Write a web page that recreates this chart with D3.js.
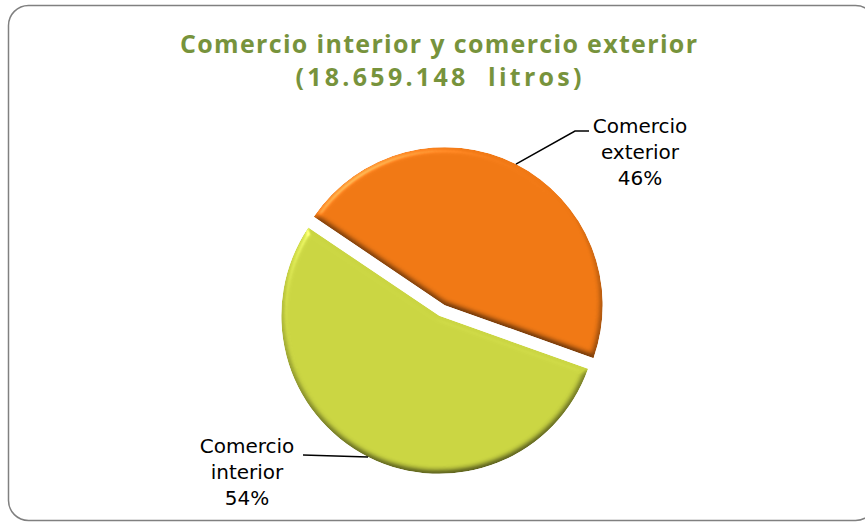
<!DOCTYPE html>
<html>
<head>
<meta charset="utf-8">
<script src="https://cdn.jsdelivr.net/npm/d3@7"></script>
<style>
  html, body { margin: 0; padding: 0; background: #fff; overflow: hidden; }
  svg { display: block; }
</style>
</head>
<body>
<script>
// chart data
var categories = ["Comercio exterior", "Comercio interior"];
var shares = [46, 54];
var labelLines = [["Comercio", "exterior", "46%"], ["Comercio", "interior", "54%"]];
var colors = ["#F07814", "#CAD542"];
var titleLines = ["Comercio interior y comercio exterior", "(18.659.148  litros)"];

var width = 865, height = 522;
var cx = 442, cy = 310.5, radius = 158, explode = 6;

var svg = d3.select("body").append("svg")
    .attr("width", width)
    .attr("height", height);

var defs = svg.append("defs");

// soft bevel for the slices
var f = defs.append("filter").attr("id", "bevel")
    .attr("color-interpolation-filters", "sRGB")
    .attr("x", "-10%").attr("y", "-10%").attr("width", "120%").attr("height", "120%");
f.append("feGaussianBlur").attr("in", "SourceAlpha").attr("stdDeviation", 3).attr("result", "blur");
var dl = f.append("feDiffuseLighting").attr("in", "blur").attr("surfaceScale", 3)
    .attr("diffuseConstant", 1.155).attr("lighting-color", "#fff").attr("result", "diff");
dl.append("feDistantLight").attr("azimuth", 260).attr("elevation", 60);
f.append("feComposite").attr("in", "SourceGraphic").attr("in2", "diff")
    .attr("operator", "arithmetic").attr("k1", 1).attr("k2", 0).attr("k3", 0).attr("k4", 0)
    .attr("result", "shaded");
var sl = f.append("feSpecularLighting").attr("in", "blur").attr("surfaceScale", 3)
    .attr("specularConstant", 0.4).attr("specularExponent", 40)
    .attr("lighting-color", "#fff").attr("result", "spec");
sl.append("feDistantLight").attr("azimuth", 235).attr("elevation", 40);
f.append("feComposite").attr("in", "spec").attr("in2", "SourceAlpha").attr("operator", "in").attr("result", "specIn");
f.append("feComposite").attr("in", "shaded").attr("in2", "specIn")
    .attr("operator", "arithmetic").attr("k1", 0).attr("k2", 1).attr("k3", 0.6).attr("k4", 0)
    .attr("result", "lit");
f.append("feComposite").attr("in", "lit").attr("in2", "SourceAlpha").attr("operator", "in");

// frame
svg.append("rect")
    .attr("x", 8.5).attr("y", 5.5)
    .attr("width", 867).attr("height", 515)
    .attr("rx", 20).attr("ry", 20)
    .attr("fill", "#fff")
    .attr("stroke", "#808080")
    .attr("stroke-width", 1.5);

// title
var titleWidths = [517, 286];
svg.append("g").selectAll("text")
    .data(titleLines)
    .enter().append("text")
    .attr("x", 438.5)
    .attr("y", function (d, i) { return 52.5 + i * 33; })
    .attr("text-anchor", "middle")
    .attr("textLength", function (d, i) { return titleWidths[i]; })
    .attr("lengthAdjust", "spacing")
    .style("font-family", "'Open Sans', 'DejaVu Sans', sans-serif")
    .style("font-weight", "bold")
    .style("font-size", "25px")
    .style("fill", "#77933C")
    .style("white-space", "pre")
    .text(function (d) { return d; });

// pie
var pie = d3.pie().sort(null)
    .startAngle(-56 * Math.PI / 180)
    .endAngle(304 * Math.PI / 180);
var arcs = pie(shares);

var arc = d3.arc().innerRadius(0).outerRadius(radius);
var edgeArc = d3.arc().innerRadius(radius).outerRadius(radius);

function offset(d) {
    var a = (d.startAngle + d.endAngle) / 2;
    return [cx + explode * Math.sin(a), cy - explode * Math.cos(a)];
}

var slices = svg.append("g").selectAll("g")
    .data(arcs)
    .enter().append("g")
    .attr("transform", function (d) { var o = offset(d); return "translate(" + o[0] + "," + o[1] + ")"; });

slices.append("path")
    .attr("d", arc)
    .attr("fill", function (d, i) { return colors[i]; })
    .attr("filter", "url(#bevel)");

// labels and leader lines
var labelPos = [[640, 133], [247, 453]];
var leaderEnds = [[[575, 131], [589, 131]], [[303, 455], [303, 455]]];
var lineGap = 26;

arcs.forEach(function (d, i) {
    var o = offset(d);
    var c = edgeArc.centroid(d);
    var start = [o[0] + c[0], o[1] + c[1]];
    var pts = [start].concat(leaderEnds[i]);
    svg.append("path")
        .attr("d", d3.line()(pts))
        .attr("fill", "none")
        .attr("stroke", "#000")
        .attr("stroke-width", 1.5);

    svg.append("g").selectAll("text")
        .data(labelLines[i])
        .enter().append("text")
        .attr("x", labelPos[i][0])
        .attr("y", function (t, j) { return labelPos[i][1] + j * lineGap; })
        .attr("text-anchor", "middle")
        .style("font-family", "'DejaVu Sans', Verdana, sans-serif")
        .style("font-size", "20px")
        .style("fill", "#000")
        .text(function (t) { return t; });
});
</script>
</body>
</html>
